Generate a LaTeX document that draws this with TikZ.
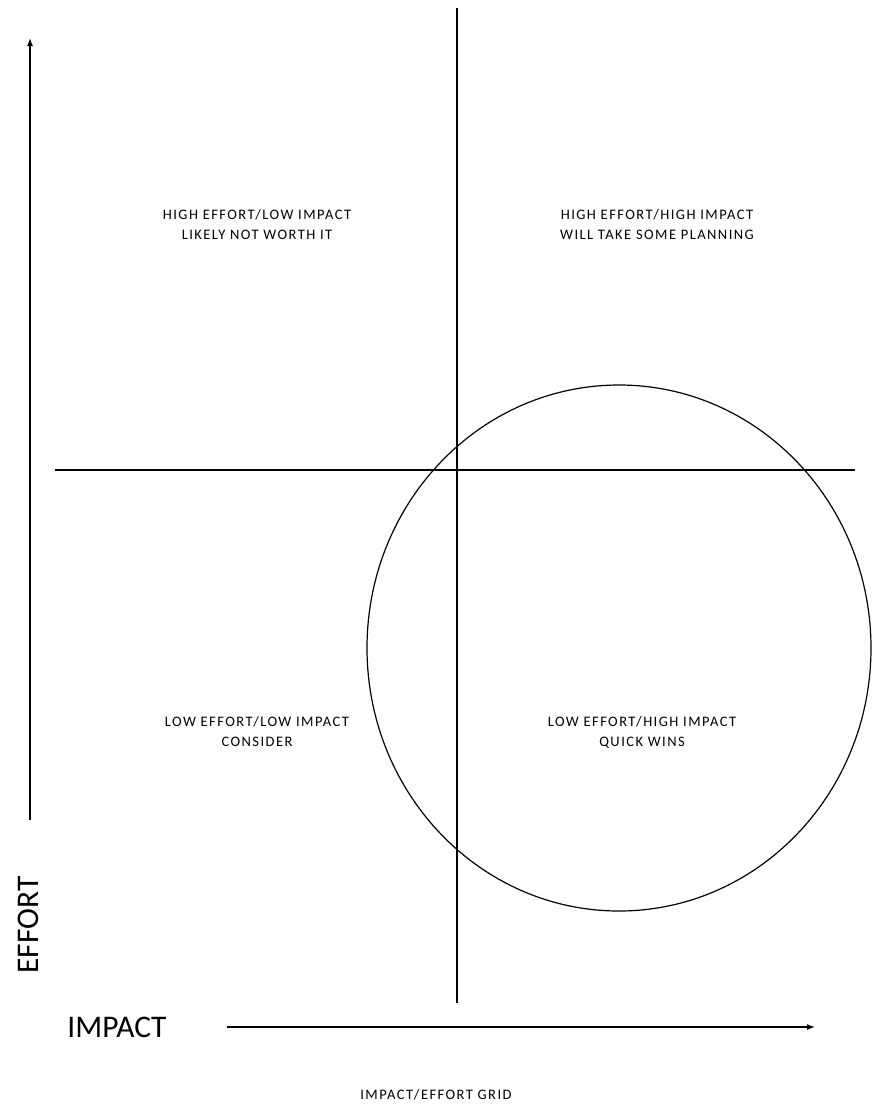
\documentclass[tikz,border=0pt]{standalone}
\usepackage{fontspec}
\setmainfont{Carlito}
\newfontfamily\smallcaps[LetterSpace=10]{Carlito}
\usetikzlibrary{arrows.meta,shapes.geometric}
\begin{document}
\begin{tikzpicture}[x=1pt,y=-1pt,
  quad/.style={align=center,font=\smallcaps\fontsize{14.5}{20}\selectfont,inner sep=0pt},
  axislbl/.style={font=\fontsize{31.5}{34}\selectfont,inner sep=0pt},
  ln/.style={line width=1.2pt,black},
  arr/.style={line width=1.4pt,-{Latex[length=8pt,width=6pt]}}]
\useasboundingbox (0,0) rectangle (872,1104);
% axes arrows
\coordinate (vstart) at (30,820);
\coordinate (vend) at (30,38);
\coordinate (hstart) at (227,1027);
\coordinate (hend) at (815,1027);
\draw[arr] (vstart) -- (vend);
\draw[arr] (hstart) -- (hend);
% quadrant lines
\coordinate (vtop) at (457,8);
\coordinate (vbot) at (457,1003);
\coordinate (hl) at (55,470);
\coordinate (hr) at (855,470);
\draw[ln] (vtop) -- (vbot);
\draw[ln] (hl) -- (hr);
% circle
\node[draw,line width=1.2pt,ellipse,inner sep=0pt,outer sep=0pt,minimum width=504pt,minimum height=526pt] (c) at (619,648) {};
% labels
\node[quad] (q1) at (257,225) {HIGH EFFORT/LOW IMPACT\\LIKELY NOT WORTH IT};
\node[quad] (q2) at (657,225) {HIGH EFFORT/HIGH IMPACT\\WILL TAKE SOME PLANNING};
\node[quad] (q3) at (257,732) {LOW EFFORT/LOW IMPACT\\CONSIDER};
\node[quad] (q4) at (642,732) {LOW EFFORT/HIGH IMPACT\\QUICK WINS};
\node[axislbl,rotate=90] (eff) at (28,925) {EFFORT};
\node[axislbl] (imp) at (117,1027) {IMPACT};
\node[quad] (title) at (436,1095) {IMPACT/EFFORT GRID};
\end{tikzpicture}
\end{document}
